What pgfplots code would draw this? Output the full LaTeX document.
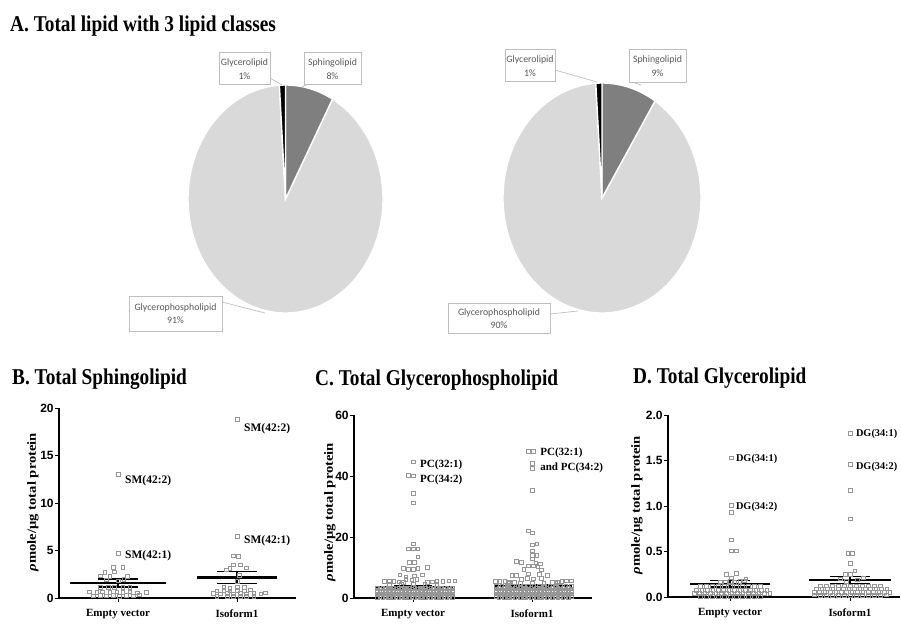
\documentclass[border=0pt]{standalone}
\usepackage{fontspec}
\setmainfont{Liberation Serif}
\newfontfamily\arialf{Liberation Sans}
\newfontfamily\calib{Carlito}
\usepackage{graphicx}
\usepackage{pgfplots}
\pgfplotsset{compat=1.18}

\definecolor{pielight}{RGB}{217,217,217}
\definecolor{piemid}{RGB}{127,127,127}
\definecolor{boxline}{RGB}{191,191,191}
\definecolor{boxtext}{RGB}{89,89,89}
\definecolor{mk}{RGB}{150,150,150}

\pgfplotsset{
  dotplot/.style={
    scale only axis, clip=false,
    axis x line=bottom, axis y line=left,
    axis line style={-, black},
    x axis line style={-, line width=2.4pt},
    y axis line style={-, line width=1.2pt},
    tick style={black, line width=1pt},
    tick align=outside, major tick length=4pt,
    xtick={0,1}, xticklabels={Empty vector,Isoform1},
    xticklabel style={font=\bfseries\fontsize{11}{11}\selectfont, yshift=-4pt},
    yticklabel style={font=\arialf\bfseries\fontsize{12}{12}\selectfont, inner sep=1.2pt},
    /pgf/number format/assume math mode=true,
    ymin=0,
  },
  mks/.style={only marks, mark=square, mark size=1.8pt, mark options={draw=mk, line width=0.6pt, fill=none, solid}},
  meanl/.style={black, line width=2.2pt},
  seml/.style={black, line width=1.2pt},
}
\tikzset{ann/.style={anchor=west, inner sep=1pt, font=\bfseries\fontsize{11.5}{11.5}\selectfont}}

% pie values (percent)
\def\sphA{8}\def\gpA{91}\def\glA{1}
\def\sphB{9}\def\gpB{90}\def\glB{1}
\pgfmathsetmacro\aAone{90-3.6*\sphA}
\pgfmathsetmacro\aAtwo{\aAone-3.6*\gpA}
\pgfmathsetmacro\aAthr{\aAtwo-3.6*\glA}
\pgfmathsetmacro\aBone{90-3.6*\sphB}
\pgfmathsetmacro\aBtwo{\aBone-3.6*\gpB}
\pgfmathsetmacro\aBthr{\aBtwo-3.6*\glB}

\begin{document}
\begin{tikzpicture}
\path[use as bounding box] (0,0) rectangle (901pt,-624pt);

% ---------- Titles ----------
\node[anchor=base west, inner sep=0] at (10pt,-31pt) {\scalebox{1}[1.17]{\bfseries\fontsize{19.3}{20}\selectfont A. Total lipid with 3 lipid classes}};
\node[anchor=base west, inner sep=0] at (12pt,-384pt) {\scalebox{1}[1.17]{\bfseries\fontsize{19.3}{20}\selectfont B. Total Sphingolipid}};
\node[anchor=base west, inner sep=0] at (315pt,-385pt) {\scalebox{1}[1.17]{\bfseries\fontsize{19.3}{20}\selectfont C. Total Glycerophospholipid}};
\node[anchor=base west, inner sep=0] at (633pt,-383pt) {\scalebox{1}[1.17]{\bfseries\fontsize{19.3}{20}\selectfont D. Total Glycerolipid}};

% ---------- Pie 1 ----------
\begin{axis}[hide axis, scale only axis, clip=false, x=97.5pt, y=114pt,
  xmin=-1, xmax=1, ymin=-1, ymax=1, at={(285.5pt,-199pt)}, anchor=center]
  \filldraw[pielight, draw=white, line width=1.4pt] (axis cs:0,0) -- (axis cs:{cos(\aAone)},{sin(\aAone)}) arc[start angle=\aAone, end angle=\aAtwo, x radius=97.5pt, y radius=114pt] -- cycle;
  \filldraw[piemid, draw=white, line width=1.4pt] (axis cs:0,0) -- (axis cs:0,1) arc[start angle=90, end angle=\aAone, x radius=97.5pt, y radius=114pt] -- cycle;
  \filldraw[black, draw=white, line width=1.4pt] (axis cs:0,0) -- (axis cs:{cos(\aAtwo)},{sin(\aAtwo)}) arc[start angle=\aAtwo, end angle=\aAthr, x radius=97.5pt, y radius=114pt] -- cycle;
\end{axis}

% ---------- Pie 2 ----------
\begin{axis}[hide axis, scale only axis, clip=false, x=99pt, y=115pt,
  xmin=-1, xmax=1, ymin=-1, ymax=1, at={(602pt,-198pt)}, anchor=center]
  \filldraw[pielight, draw=white, line width=1.4pt] (axis cs:0,0) -- (axis cs:{cos(\aBone)},{sin(\aBone)}) arc[start angle=\aBone, end angle=\aBtwo, x radius=99pt, y radius=115pt] -- cycle;
  \filldraw[piemid, draw=white, line width=1.4pt] (axis cs:0,0) -- (axis cs:0,1) arc[start angle=90, end angle=\aBone, x radius=99pt, y radius=115pt] -- cycle;
  \filldraw[black, draw=white, line width=1.4pt] (axis cs:0,0) -- (axis cs:{cos(\aBtwo)},{sin(\aBtwo)}) arc[start angle=\aBtwo, end angle=\aBthr, x radius=99pt, y radius=115pt] -- cycle;
\end{axis}

% pie labels
\tikzset{pbox/.style={draw=boxline, fill=white, line width=0.7pt}, ptxt/.style={font=\calib\fontsize{9.8}{13.5}\selectfont, text=boxtext, align=center, inner sep=0}, pline/.style={boxline, line width=0.7pt}}
\draw[pline] (270pt,-78pt) -- (282pt,-85pt);
\draw[pline] (308pt,-84pt) -- (302pt,-87pt);
\draw[pline] (222pt,-302pt) -- (265pt,-313pt);
\draw[pbox] (219pt,-52pt) rectangle (270pt,-84pt);
\node[ptxt] at (244.5pt,-69pt) {Glycerolipid\\1\%};
\draw[pbox] (304pt,-52pt) rectangle (361pt,-84pt);
\node[ptxt] at (332.5pt,-69pt) {Sphingolipid\\8\%};
\draw[pbox] (129pt,-296pt) rectangle (222pt,-331pt);
\node[ptxt] at (175.5pt,-313.5pt) {Glycerophospholipid\\91\%};

\draw[pline] (555pt,-70pt) -- (597pt,-82pt);
\draw[pline] (632pt,-82pt) -- (641pt,-85pt);
\draw[pline] (550pt,-314pt) -- (578pt,-311pt);
\draw[pbox] (505pt,-49pt) rectangle (555pt,-81pt);
\node[ptxt] at (530pt,-66pt) {Glycerolipid\\1\%};
\draw[pbox] (629pt,-49pt) rectangle (686pt,-82pt);
\node[ptxt] at (657.5pt,-66pt) {Sphingolipid\\9\%};
\draw[pbox] (448pt,-303pt) rectangle (550pt,-333pt);
\node[ptxt] at (499pt,-318.5pt) {Glycerophospholipid\\90\%};

% ---------- Panel B ----------
\begin{axis}[dotplot, x=119pt, y=9.5pt, xmin=-0.496, xmax=1.496, ymax=20,
  ytick={0,5,10,15,20}, at={(59pt,-598pt)}, anchor=south west]
\addplot[mks] coordinates {
(0,13.05) (0,4.72) (-0.04,3.24) (0.04,3.24) (-0.11,2.7) (-0.03,2.75)
(-0.15,2.35) (-0.07,2.3) (0.08,2.3) (-0.1,1.9) (0.0,1.8) (0.05,1.95)
(-0.15,1.1) (-0.08,1.1) (-0.03,1.15) (0.04,1.1) (0.1,1.15)
(-0.24,0.67) (-0.18,0.62) (-0.13,0.67) (-0.07,0.6) (-0.01,0.67) (0.04,0.62) (0.1,0.67) (0.16,0.55) (0.24,0.6)
(-0.21,0.25) (-0.15,0.3) (-0.1,0.22) (-0.04,0.3) (0.01,0.2) (0.07,0.28) (0.13,0.25) (0.18,0.32)
};
\addplot[mks] coordinates {
(1,18.8) (1,6.5) (0.97,4.45) (1.01,4.4) (0.97,3.5) (1.03,3.5) (0.94,3.15) (1.08,3.2) (0.91,2.95)
(1.0,1.75) (1.02,2.4) (0.89,1.1) (0.94,1.05) (1.0,1.1) (1.06,1.15)
(0.83,0.78) (0.89,0.8) (0.94,0.75) (1.0,0.8) (1.06,0.78) (1.11,0.85)
(0.8,0.5) (0.86,0.45) (0.92,0.5) (0.97,0.45) (1.03,0.5) (1.08,0.45) (1.14,0.5) (1.2,0.45) (1.24,0.55)
(0.83,0.15) (0.92,0.2) (0.97,0.15) (1.03,0.2) (1.08,0.15) (1.14,0.2)
};
\addplot[meanl] coordinates {(-0.4,1.6) (0.4,1.6)};
\addplot[seml] coordinates {(-0.17,2.0) (0.17,2.0)};
\addplot[seml] coordinates {(-0.17,1.15) (0.17,1.15)};
\addplot[seml] coordinates {(0,1.15) (0,2.0)};
\addplot[meanl] coordinates {(0.66,2.15) (1.34,2.15)};
\addplot[seml] coordinates {(0.83,2.75) (1.17,2.75)};
\addplot[seml] coordinates {(0.83,1.55) (1.17,1.55)};
\addplot[seml] coordinates {(1,1.55) (1,2.75)};
\node[ann] at (axis cs:0.05,12.3) {SM(42:2)};
\node[ann] at (axis cs:0.05,4.5) {SM(42:1)};
\node[ann] at (axis cs:1.05,17.8) {SM(42:2)};
\node[ann] at (axis cs:1.05,6.0) {SM(42:1)};
\end{axis}

% ---------- Panel C ----------
\begin{axis}[dotplot, x=119pt, y=3.05pt, xmin=-0.496, xmax=1.504, ymax=60,
  ytick={0,20,40,60}, at={(354pt,-598pt)}, anchor=south west]
\addplot[mks] coordinates {
(0,44.7) (-0.04,40.3) (0,40.1) (0,34.3) (0,31.2) (0,17.8) (-0.04,16.2) (0,16.2) (0.04,16.2) (0.04,13.5)
(-0.03,11.8) (0.01,11.8) (-0.08,9.8) (-0.04,9.5) (0,9.5) (0.04,9.8) (0.12,10.0)
(-0.11,7.6) (-0.06,7.0) (0.01,7.3) (0.08,7.6) (-0.06,6.2) (-0.01,6.0) (0.03,6.2)
(-0.24,5.4) (-0.2,5.5) (-0.16,5.4) (-0.12,5.3) (-0.08,5.2) (0.12,5.2) (0.16,5.3) (0.2,5.4) (0.25,5.5) (0.3,5.6) (0.35,5.6)
(-0.2,4.5) (-0.1,4.4) (0.0,4.6) (0.1,4.4) (0.2,4.5)
(-0.30,3.4) (-0.255,3.4) (-0.21,3.4) (-0.165,3.4) (-0.12,3.4) (-0.075,3.4) (-0.03,3.4) (0.015,3.4) (0.06,3.4) (0.105,3.4) (0.15,3.4) (0.195,3.4) (0.24,3.4) (0.285,3.4) (0.33,3.4)
(-0.28,3.0) (-0.235,3.0) (-0.19,3.0) (-0.145,3.0) (-0.10,3.0) (-0.055,3.0) (-0.01,3.0) (0.035,3.0) (0.08,3.0) (0.125,3.0) (0.17,3.0) (0.215,3.0) (0.26,3.0) (0.305,3.0)
(-0.30,2.6) (-0.255,2.6) (-0.21,2.6) (-0.165,2.6) (-0.12,2.6) (-0.075,2.6) (-0.03,2.6) (0.015,2.6) (0.06,2.6) (0.105,2.6) (0.15,2.6) (0.195,2.6) (0.24,2.6) (0.285,2.6) (0.33,2.6)
(-0.28,2.2) (-0.235,2.2) (-0.19,2.2) (-0.145,2.2) (-0.10,2.2) (-0.055,2.2) (-0.01,2.2) (0.035,2.2) (0.08,2.2) (0.125,2.2) (0.17,2.2) (0.215,2.2) (0.26,2.2) (0.305,2.2)
(-0.30,1.8) (-0.255,1.8) (-0.21,1.8) (-0.165,1.8) (-0.12,1.8) (-0.075,1.8) (-0.03,1.8) (0.015,1.8) (0.06,1.8) (0.105,1.8) (0.15,1.8) (0.195,1.8) (0.24,1.8) (0.285,1.8) (0.33,1.8)
(-0.28,1.4) (-0.235,1.4) (-0.19,1.4) (-0.145,1.4) (-0.10,1.4) (-0.055,1.4) (-0.01,1.4) (0.035,1.4) (0.08,1.4) (0.125,1.4) (0.17,1.4) (0.215,1.4) (0.26,1.4) (0.305,1.4)
(-0.30,1.0) (-0.255,1.0) (-0.21,1.0) (-0.165,1.0) (-0.12,1.0) (-0.075,1.0) (-0.03,1.0) (0.015,1.0) (0.06,1.0) (0.105,1.0) (0.15,1.0) (0.195,1.0) (0.24,1.0) (0.285,1.0) (0.33,1.0)
(-0.28,0.6) (-0.235,0.6) (-0.19,0.6) (-0.145,0.6) (-0.10,0.6) (-0.055,0.6) (-0.01,0.6) (0.035,0.6) (0.08,0.6) (0.125,0.6) (0.17,0.6) (0.215,0.6) (0.26,0.6) (0.305,0.6)
(-0.30,0.2) (-0.255,0.2) (-0.21,0.2) (-0.165,0.2) (-0.12,0.2) (-0.075,0.2) (-0.03,0.2) (0.015,0.2) (0.06,0.2) (0.105,0.2) (0.15,0.2) (0.195,0.2) (0.24,0.2) (0.285,0.2) (0.33,0.2)
};
\addplot[mks] coordinates {
(0.97,48.2) (1.01,48.2) (1.0,44.1) (1.0,42.5) (1.0,35.3) (0.97,22) (1.0,21.4) (1.0,17.5) (1.04,17.8)
(1.0,15.5) (1.0,14) (1.04,14) (1.0,12.8) (0.87,12) (0.91,11.7) (1.07,11.2) (1.03,11.5)
(0.97,10.5) (1.01,10.6) (1.05,10.2) (0.93,9.5) (1.08,9.3)
(0.83,7.5) (0.87,7.5) (0.97,8.0) (1.06,7.8) (1.13,7.5) (0.96,6.5) (1.01,6.3) (1.08,6.5) (0.91,6.2)
(0.69,5.4) (0.73,5.5) (0.77,5.4) (0.81,5.3) (0.85,5.2) (1.17,5.2) (1.21,5.3) (1.25,5.4) (1.29,5.6) (1.33,5.7)
(0.8,4.8) (0.9,4.9) (1.0,5.0) (1.1,4.8) (1.2,4.9)
(0.70,3.8) (0.745,3.8) (0.79,3.8) (0.835,3.8) (0.88,3.8) (0.925,3.8) (0.97,3.8) (1.015,3.8) (1.06,3.8) (1.105,3.8) (1.15,3.8) (1.195,3.8) (1.24,3.8) (1.285,3.8) (1.33,3.8)
(0.72,3.4) (0.765,3.4) (0.81,3.4) (0.855,3.4) (0.90,3.4) (0.945,3.4) (0.99,3.4) (1.035,3.4) (1.08,3.4) (1.125,3.4) (1.17,3.4) (1.215,3.4) (1.26,3.4) (1.305,3.4)
(0.70,3.0) (0.745,3.0) (0.79,3.0) (0.835,3.0) (0.88,3.0) (0.925,3.0) (0.97,3.0) (1.015,3.0) (1.06,3.0) (1.105,3.0) (1.15,3.0) (1.195,3.0) (1.24,3.0) (1.285,3.0) (1.33,3.0)
(0.72,2.6) (0.765,2.6) (0.81,2.6) (0.855,2.6) (0.90,2.6) (0.945,2.6) (0.99,2.6) (1.035,2.6) (1.08,2.6) (1.125,2.6) (1.17,2.6) (1.215,2.6) (1.26,2.6) (1.305,2.6)
(0.70,2.2) (0.745,2.2) (0.79,2.2) (0.835,2.2) (0.88,2.2) (0.925,2.2) (0.97,2.2) (1.015,2.2) (1.06,2.2) (1.105,2.2) (1.15,2.2) (1.195,2.2) (1.24,2.2) (1.285,2.2) (1.33,2.2)
(0.72,1.8) (0.765,1.8) (0.81,1.8) (0.855,1.8) (0.90,1.8) (0.945,1.8) (0.99,1.8) (1.035,1.8) (1.08,1.8) (1.125,1.8) (1.17,1.8) (1.215,1.8) (1.26,1.8) (1.305,1.8)
(0.70,1.4) (0.745,1.4) (0.79,1.4) (0.835,1.4) (0.88,1.4) (0.925,1.4) (0.97,1.4) (1.015,1.4) (1.06,1.4) (1.105,1.4) (1.15,1.4) (1.195,1.4) (1.24,1.4) (1.285,1.4) (1.33,1.4)
(0.72,1.0) (0.765,1.0) (0.81,1.0) (0.855,1.0) (0.90,1.0) (0.945,1.0) (0.99,1.0) (1.035,1.0) (1.08,1.0) (1.125,1.0) (1.17,1.0) (1.215,1.0) (1.26,1.0) (1.305,1.0)
(0.70,0.6) (0.745,0.6) (0.79,0.6) (0.835,0.6) (0.88,0.6) (0.925,0.6) (0.97,0.6) (1.015,0.6) (1.06,0.6) (1.105,0.6) (1.15,0.6) (1.195,0.6) (1.24,0.6) (1.285,0.6) (1.33,0.6)
(0.72,0.2) (0.765,0.2) (0.81,0.2) (0.855,0.2) (0.90,0.2) (0.945,0.2) (0.99,0.2) (1.035,0.2) (1.08,0.2) (1.125,0.2) (1.17,0.2) (1.215,0.2) (1.26,0.2) (1.305,0.2)
};
\addplot[meanl] coordinates {(-0.32,3.6) (0.34,3.6)};
\addplot[seml] coordinates {(-0.16,4.0) (0.16,4.0)};
\addplot[seml] coordinates {(-0.16,3.2) (0.16,3.2)};
\addplot[seml] coordinates {(0,3.2) (0,4.0)};
\addplot[meanl] coordinates {(0.68,4.0) (1.34,4.0)};
\addplot[seml] coordinates {(0.84,4.5) (1.16,4.5)};
\addplot[seml] coordinates {(0.84,3.5) (1.16,3.5)};
\addplot[seml] coordinates {(1,3.5) (1,4.5)};
\node[ann, font=\bfseries\fontsize{11}{11}\selectfont] at (axis cs:0.05,43.8) {PC(32:1)};
\node[ann, font=\bfseries\fontsize{11}{11}\selectfont] at (axis cs:0.05,38.8) {PC(34:2)};
\node[ann, font=\bfseries\fontsize{11}{11}\selectfont] at (axis cs:1.06,47.5) {PC(32:1)};
\node[ann, font=\bfseries\fontsize{11}{11}\selectfont] at (axis cs:1.06,42.6) {and PC(34:2)};
\end{axis}

% ---------- Panel D ----------
\begin{axis}[dotplot, x=120pt, y=91pt, xmin=-0.517, xmax=1.417, ymax=2,
  ytick={0,0.5,1,1.5,2}, yticklabels={0.0,0.5,1.0,1.5,2.0}, at={(668pt,-597pt)}, anchor=south west]
\addplot[mks] coordinates {
(0.01,1.53) (0.01,1.01) (0.01,0.93) (0.01,0.63) (0.01,0.51) (0.05,0.51) (-0.03,0.25) (0.05,0.26) (0.01,0.21) (0.13,0.2)
(-0.08,0.165) (-0.04,0.16) (0,0.17) (0.04,0.16) (0.08,0.17) (0.12,0.18)
(-0.25,0.115) (-0.2,0.115) (-0.15,0.115) (-0.1,0.115) (-0.05,0.115) (0,0.115) (0.05,0.115) (0.1,0.115) (0.15,0.115) (0.2,0.115) (0.25,0.115)
(-0.28,0.075) (-0.235,0.075) (-0.19,0.075) (-0.145,0.075) (-0.10,0.075) (-0.055,0.075) (-0.01,0.075) (0.035,0.075) (0.08,0.075) (0.125,0.075) (0.17,0.075) (0.215,0.075) (0.26,0.075) (0.305,0.075)
(-0.30,0.04) (-0.255,0.04) (-0.21,0.04) (-0.165,0.04) (-0.12,0.04) (-0.075,0.04) (-0.03,0.04) (0.015,0.04) (0.06,0.04) (0.105,0.04) (0.15,0.04) (0.195,0.04) (0.24,0.04) (0.285,0.04) (0.33,0.04)
(-0.25,0.01) (-0.2,0.01) (-0.15,0.01) (-0.1,0.01) (-0.05,0.01) (0,0.01) (0.05,0.01) (0.1,0.01) (0.15,0.01) (0.2,0.01) (0.25,0.01)
};
\addplot[mks] coordinates {
(1,1.80) (1,1.46) (1,1.17) (1,0.86) (0.98,0.48) (1.02,0.48) (1,0.37) (1.04,0.29) (0.96,0.25) (1.0,0.25) (0.92,0.2) (1.11,0.21) (1.06,0.19) (0.97,0.17)
(0.75,0.125) (0.8,0.125) (0.85,0.125) (0.9,0.125) (0.95,0.125) (1.0,0.125) (1.05,0.125) (1.1,0.125) (1.15,0.125) (1.2,0.125) (1.25,0.125)
(0.72,0.09) (0.765,0.09) (0.81,0.09) (0.855,0.09) (0.90,0.09) (0.945,0.09) (0.99,0.09) (1.035,0.09) (1.08,0.09) (1.125,0.09) (1.17,0.09) (1.215,0.09) (1.26,0.09) (1.305,0.09)
(0.70,0.055) (0.745,0.055) (0.79,0.055) (0.835,0.055) (0.88,0.055) (0.925,0.055) (0.97,0.055) (1.015,0.055) (1.06,0.055) (1.105,0.055) (1.15,0.055) (1.195,0.055) (1.24,0.055) (1.285,0.055) (1.33,0.055)
(0.70,0.025) (0.75,0.02) (0.8,0.02) (0.85,0.02) (0.9,0.02) (0.95,0.02) (1.0,0.02) (1.05,0.02) (1.1,0.02) (1.15,0.02) (1.2,0.02) (1.25,0.02) (1.3,0.025)
};
\addplot[meanl] coordinates {(-0.33,0.145) (0.33,0.145)};
\addplot[seml] coordinates {(-0.17,0.18) (0.17,0.18)};
\addplot[seml] coordinates {(-0.17,0.11) (0.17,0.11)};
\addplot[seml] coordinates {(0,0.11) (0,0.18)};
\addplot[meanl] coordinates {(0.66,0.185) (1.34,0.185)};
\addplot[seml] coordinates {(0.83,0.225) (1.17,0.225)};
\addplot[seml] coordinates {(0.83,0.15) (1.17,0.15)};
\addplot[seml] coordinates {(1,0.15) (1,0.225)};
\node[ann, font=\bfseries\fontsize{10.3}{10.3}\selectfont] at (axis cs:0.04,1.52) {DG(34:1)};
\node[ann, font=\bfseries\fontsize{10.3}{10.3}\selectfont] at (axis cs:0.04,0.99) {DG(34:2)};
\node[ann, font=\bfseries\fontsize{10.3}{10.3}\selectfont] at (axis cs:1.04,1.79) {DG(34:1)};
\node[ann, font=\bfseries\fontsize{10.3}{10.3}\selectfont] at (axis cs:1.04,1.43) {DG(34:2)};
\end{axis}

% y labels
\node[rotate=90, inner sep=0] at (33pt,-502pt) {\scalebox{1.17}[1]{\bfseries\fontsize{12.5}{13}\selectfont\textit{ρ}mole/μg total protein}};
\node[rotate=90, inner sep=0] at (330pt,-512pt) {\scalebox{1.17}[1]{\bfseries\fontsize{12.5}{13}\selectfont\textit{ρ}mole/μg total protein}};
\node[rotate=90, inner sep=0] at (637pt,-505pt) {\scalebox{1.17}[1]{\bfseries\fontsize{12.5}{13}\selectfont\textit{ρ}mole/μg total protein}};
\end{tikzpicture}
\end{document}
